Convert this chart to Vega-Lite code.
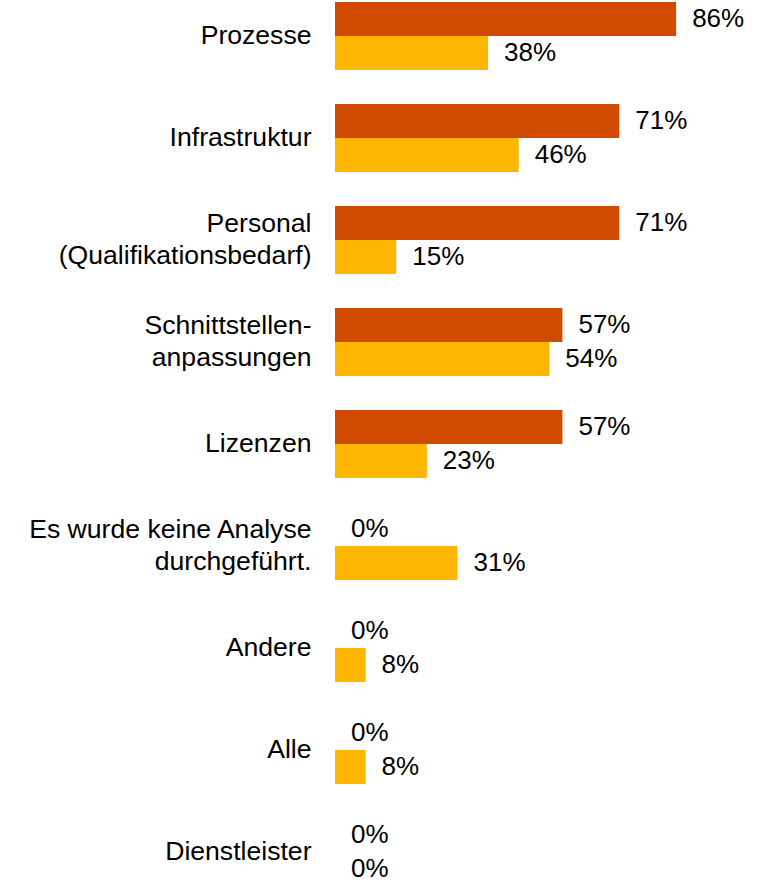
{
  "$schema": "https://vega.github.io/schema/vega-lite/v6.json",
  "autosize": "none",
  "padding": {"left": 335, "top": 0, "right": 48, "bottom": 0},
  "width": 398,
  "height": 888,
  "background": "white",
  "config": {"view": {"stroke": null}},
  "data": {
    "values": [
      {"cat": "Prozesse", "series": "Serie 1", "value": 0.8571},
      {"cat": "Prozesse", "series": "Serie 2", "value": 0.3846},
      {"cat": "Infrastruktur", "series": "Serie 1", "value": 0.7143},
      {"cat": "Infrastruktur", "series": "Serie 2", "value": 0.4615},
      {"cat": "Personal|(Qualifikationsbedarf)", "series": "Serie 1", "value": 0.7143},
      {"cat": "Personal|(Qualifikationsbedarf)", "series": "Serie 2", "value": 0.1538},
      {"cat": "Schnittstellen-|anpassungen", "series": "Serie 1", "value": 0.5714},
      {"cat": "Schnittstellen-|anpassungen", "series": "Serie 2", "value": 0.5385},
      {"cat": "Lizenzen", "series": "Serie 1", "value": 0.5714},
      {"cat": "Lizenzen", "series": "Serie 2", "value": 0.2308},
      {"cat": "Es wurde keine Analyse|durchgeführt.", "series": "Serie 1", "value": 0},
      {"cat": "Es wurde keine Analyse|durchgeführt.", "series": "Serie 2", "value": 0.3077},
      {"cat": "Andere", "series": "Serie 1", "value": 0},
      {"cat": "Andere", "series": "Serie 2", "value": 0.0769},
      {"cat": "Alle", "series": "Serie 1", "value": 0},
      {"cat": "Alle", "series": "Serie 2", "value": 0.0769},
      {"cat": "Dienstleister", "series": "Serie 1", "value": 0},
      {"cat": "Dienstleister", "series": "Serie 2", "value": 0}
    ]
  },
  "encoding": {
    "y": {
      "field": "cat",
      "type": "nominal",
      "sort": null,
      "title": null,
      "scale": {"paddingInner": 0.3333, "paddingOuter": 0.0196},
      "axis": {
        "domain": false,
        "ticks": false,
        "grid": false,
        "labelFont": "Liberation Sans",
        "labelFontSize": 26.6,
        "labelColor": "#000000",
        "labelPadding": 24,
        "labelLimit": 400,
        "labelLineHeight": 32,
        "labelOffset": {"condition": {"test": "indexof(datum.value, '|') >= 0", "value": -16}, "value": 0},
        "labelExpr": "split(datum.value, '|')"
      }
    },
    "yOffset": {
      "field": "series",
      "type": "nominal",
      "sort": ["Serie 1", "Serie 2"],
      "scale": {"paddingInner": 0, "paddingOuter": 0}
    },
    "x": {
      "field": "value",
      "type": "quantitative",
      "scale": {"domain": [0, 1]},
      "axis": null
    }
  },
  "layer": [
    {
      "mark": {"type": "bar"},
      "encoding": {
        "color": {
          "field": "series",
          "type": "nominal",
          "scale": {"domain": ["Serie 1", "Serie 2"], "range": ["#D04A02", "#FFB600"]},
          "legend": null
        }
      }
    },
    {
      "mark": {
        "type": "text",
        "align": "left",
        "baseline": "middle",
        "dx": 16,
        "font": "Liberation Sans",
        "fontSize": 26,
        "color": "#000000"
      },
      "encoding": {
        "text": {"field": "value", "type": "quantitative", "format": ".0%"}
      }
    }
  ]
}
